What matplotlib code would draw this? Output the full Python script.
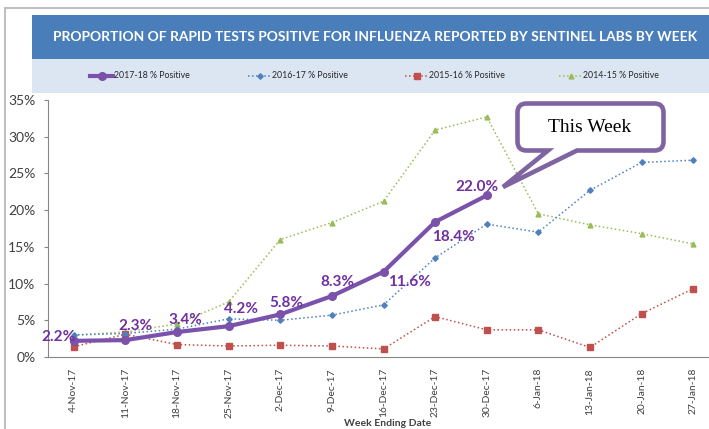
import matplotlib
matplotlib.use("Agg")
import matplotlib.pyplot as plt
from matplotlib.lines import Line2D
from matplotlib.patches import Rectangle, PathPatch
from matplotlib.path import Path
from matplotlib.transforms import IdentityTransform
from matplotlib.ticker import FuncFormatter

plt.rcParams['font.family'] = ['Lato', 'DejaVu Sans']

weeks = ['4-Nov-17', '11-Nov-17', '18-Nov-17', '25-Nov-17', '2-Dec-17', '9-Dec-17',
         '16-Dec-17', '23-Dec-17', '30-Dec-17', '6-Jan-18', '13-Jan-18', '20-Jan-18', '27-Jan-18']

s2017_18 = [2.2, 2.3, 3.4, 4.2, 5.8, 8.3, 11.6, 18.4, 22.0]
s2016_17 = [3.0, 3.2, 3.8, 5.2, 5.0, 5.7, 7.1, 13.5, 18.1, 17.0, 22.7, 26.5, 26.8]
s2015_16 = [1.4, 3.1, 1.7, 1.5, 1.6, 1.5, 1.1, 5.5, 3.7, 3.7, 1.3, 5.9, 9.3]
s2014_15 = [3.0, 3.4, 4.5, 7.5, 16.0, 18.3, 21.2, 30.9, 32.7, 19.5, 18.0, 16.8, 15.4]

labels = ['2017-18 % Positive', '2016-17 % Positive', '2015-16 % Positive', '2014-15 % Positive']

W, H = 709, 429
fig = plt.figure(figsize=(W / 100, H / 100), dpi=100)
ident = IdentityTransform()


def px(x, y):
    # image pixel (top-left origin) -> display coords
    return x, H - y


# frame, banner and legend band
fig.add_artist(Line2D([5, 5], [0, H - 8], transform=ident, color='#BFBFBF', lw=1.5))
fig.add_artist(Line2D([5, W], [H - 8, H - 8], transform=ident, color='#BFBFBF', lw=1.5))
fig.add_artist(Rectangle(px(32, 59), W - 32, 44, transform=ident, facecolor='#4A7EBB', edgecolor='none'))
fig.add_artist(Rectangle(px(32, 93), W - 32, 34, transform=ident, facecolor='#DCE6F2', edgecolor='none'))
fig.text(375 / W, 1 - 37 / H, 'PROPORTION OF RAPID TESTS POSITIVE FOR INFLUENZA REPORTED BY SENTINEL LABS BY WEEK',
         color='white', fontsize=9.9, fontweight='bold', ha='center', va='center')

ax = fig.add_axes([48 / W, 1 - 357 / H, 671 / W, 257 / H])
x_all = list(range(len(weeks)))

styles = [
    dict(color='#7B52AB', lw=3, marker='o', ms=5.5, ls='-'),
    dict(color='#4F81BD', lw=1.1, marker='D', ms=2.8, ls=':'),
    dict(color='#C0504D', lw=1.1, marker='s', ms=4, ls=':'),
    dict(color='#9BBB59', lw=1.1, marker='^', ms=3.5, ls=':'),
]
series = [s2017_18, s2016_17, s2015_16, s2014_15]
order = [3, 2, 1, 0]
for i in order:
    vals = [v / 100 for v in series[i]]
    ax.plot(x_all[:len(vals)], vals, zorder=3 + (i == 0), **styles[i])

# data labels for current season
offsets = [(-11, 3), (7, 10), (6, 9), (9, 12), (4, 8), (4, 10), (19, -7), (13, -11), (-7, 6)]
for i, v in enumerate(s2017_18):
    ax.annotate(f'{v:.1f}%', (i, v / 100), xytext=offsets[i], textcoords='offset points',
                ha='center', va='center', color='#7030A0', fontsize=11, fontweight='bold', zorder=6)

ax.set_xlim(-0.5, 12.5)
ax.set_ylim(0, 0.35)
ax.set_yticks([0, 0.05, 0.10, 0.15, 0.20, 0.25, 0.30, 0.35])
ax.yaxis.set_major_formatter(FuncFormatter(lambda v, p: f'{v * 100:.0f}%'))
ax.set_xticks(x_all)
ax.set_xticklabels(weeks, rotation=90)
for sp in ['top', 'right']:
    ax.spines[sp].set_visible(False)
for sp in ['left', 'bottom']:
    ax.spines[sp].set_color('#868686')
ax.tick_params(axis='y', length=3, color='#868686', pad=6, labelsize=10, labelcolor='#404040')
ax.tick_params(axis='x', length=0, pad=8, labelsize=7.4, labelcolor='#404040')

fig.text(388 / W, 1 - 423 / H, 'Week Ending Date', fontsize=7.5, fontweight='bold',
         color='#404040', ha='center', va='center')

# legend, drawn by hand in the light band
leg_x = [90, 248, 405, 559]
leg_y = 76
for i in range(4):
    st = styles[i]
    x0 = leg_x[i]
    x1 = x0 + 23
    fig.add_artist(Line2D([x0, x1], [H - leg_y, H - leg_y], transform=ident, color=st['color'],
                          lw=st['lw'], ls=st['ls']))
    fig.add_artist(Line2D([(x0 + x1) / 2], [H - leg_y], transform=ident, color=st['color'],
                          marker=st['marker'], ms=st['ms'], ls='none'))
    fig.text((x1 + 1) / W, 1 - leg_y / H, labels[i], fontsize=6.3, color='#262626',
             ha='left', va='center')

# "This Week" callout: rounded box with a tail, one outline
purple = '#8064A2'
bx0, bx1, by0, by1, r = 517.5, 663.5, 103.5, 150.5, 9
verts = [(bx0 + r, by0), (bx1 - r, by0), (bx1, by0), (bx1, by0 + r), (bx1, by1 - r),
         (bx1, by1), (bx1 - r, by1), (577, by1), (503, 187), (548, by1), (bx0 + r, by1),
         (bx0, by1), (bx0, by1 - r), (bx0, by0 + r), (bx0, by0), (bx0 + r, by0), (bx0 + r, by0)]
codes = [Path.MOVETO, Path.LINETO, Path.CURVE3, Path.CURVE3, Path.LINETO,
         Path.CURVE3, Path.CURVE3, Path.LINETO, Path.LINETO, Path.LINETO, Path.LINETO,
         Path.CURVE3, Path.CURVE3, Path.LINETO, Path.CURVE3, Path.CURVE3, Path.CLOSEPOLY]
callout = Path([px(*v) for v in verts], codes)
fig.add_artist(PathPatch(callout, transform=ident, facecolor='white', edgecolor=purple,
                         lw=3.3, joinstyle='miter', zorder=10))
fig.text(590 / W, 1 - 127 / H, 'This Week', family='Liberation Serif', fontsize=14,
         color='black', ha='center', va='center', zorder=13)

fig.savefig('out.png', dpi=100)
